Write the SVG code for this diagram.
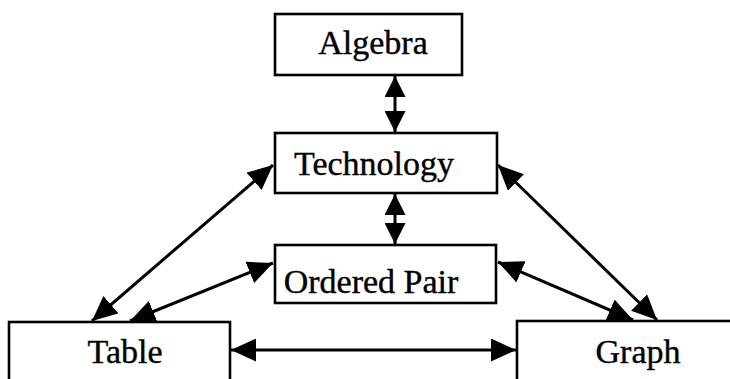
<svg xmlns="http://www.w3.org/2000/svg" width="730" height="379" viewBox="0 0 730 379">
<style>
.box{fill:#fff;stroke:#000;stroke-width:2.6}
.lbl{font-family:"Liberation Serif","Times New Roman",serif;font-size:34px;fill:#000;stroke:#000;stroke-width:0.4;text-anchor:middle}
.con{stroke:#000;stroke-width:3;fill:none;marker-start:url(#ah);marker-end:url(#ah)}
.con.short{marker-start:url(#ahs);marker-end:url(#ahs)}
</style>
<defs>
<marker id="ah" markerUnits="userSpaceOnUse" markerWidth="25" markerHeight="23" refX="25" refY="11.5" orient="auto-start-reverse" viewBox="0 0 25 23">
<path d="M0,0 L25,11.5 L0,23 z" fill="#000"/>
</marker>
<marker id="ahs" markerUnits="userSpaceOnUse" markerWidth="21" markerHeight="21" refX="21" refY="10.5" orient="auto-start-reverse" viewBox="0 0 21 21">
<path d="M0,0 L21,10.5 L0,21 z" fill="#000"/>
</marker>
</defs>
<rect width="730" height="379" fill="#fff"/>
<g id="algebra">
<rect class="box" x="275" y="14" width="187" height="61"/>
<text class="lbl" x="373" y="54">Algebra</text>
</g>
<g id="technology">
<rect class="box" x="275" y="133" width="222" height="60"/>
<text class="lbl" x="374" y="175">Technology</text>
</g>
<g id="ordered-pair">
<rect class="box" x="275" y="245" width="221" height="58"/>
<text class="lbl" x="371" y="293">Ordered Pair</text>
</g>
<g id="table">
<rect class="box" x="9" y="322" width="221" height="70"/>
<text class="lbl" x="125" y="363">Table</text>
</g>
<g id="graph">
<rect class="box" x="517" y="321" width="230" height="70"/>
<text class="lbl" x="638" y="363">Graph</text>
</g>
<g id="connectors">
<line class="con short" x1="395" y1="76" x2="395" y2="132"/>
<line class="con short" x1="395" y1="194" x2="395" y2="244"/>
<line class="con" x1="273" y1="165" x2="92" y2="321"/>
<line class="con" x1="273" y1="263" x2="130" y2="321"/>
<line class="con" x1="498" y1="165" x2="657" y2="320"/>
<line class="con" x1="498" y1="262" x2="633" y2="320"/>
<line class="con" x1="231" y1="350" x2="516" y2="350"/>
</g>
</svg>
